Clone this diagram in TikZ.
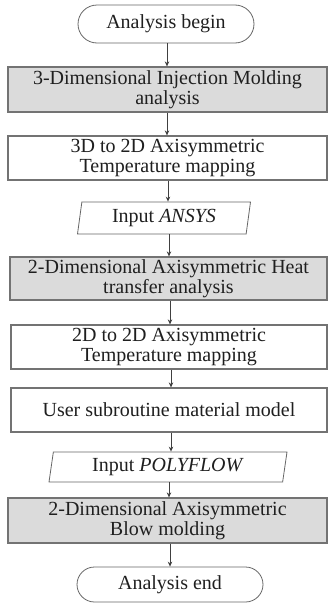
\documentclass[tikz,border=0pt]{standalone}
\usepackage{fontspec}
\setmainfont{Liberation Serif}
\usetikzlibrary{shapes.geometric,shapes.misc,arrows.meta}
\begin{document}
\begin{tikzpicture}[x=1pt,y=-1pt,
  every node/.style={font=\fontsize{20}{20}\selectfont, text=black!88, inner sep=0pt},
  term/.style={rounded rectangle, draw=black!60, line width=0.8pt, minimum height=38pt},
  procg/.style={rectangle, draw=black!55, fill=black!14, line width=1.2pt, minimum width=319pt, align=center},
  procw/.style={rectangle, draw=black!55, fill=white, line width=1.2pt, minimum width=319pt, align=center},
  io/.style={trapezium, trapezium left angle=76, trapezium right angle=104, trapezium stretches body, draw=black!60, line width=0.8pt},
  arr/.style={draw=black!75, line width=0.8pt, -{Stealth[length=5pt,width=4.5pt]}}
]
\useasboundingbox (0,0) rectangle (328,608);
\node[term, minimum width=176pt] (begin) at (166,24) {Analysis begin};
\node[procg, minimum height=45pt] (b1) at (167.5,89.5) {3-Dimensional Injection Molding\\analysis};
\node[procw, minimum height=44pt] (b2) at (167.5,158) {3D to 2D Axisymmetric\\Temperature mapping};
\node[io, minimum width=173pt, minimum height=32pt] (p1) at (164,218) {Input \textit{ANSYS}};
\node[procg, minimum height=43pt, minimum width=317pt] (b3) at (168.5,278.5) {2-Dimensional Axisymmetric Heat\\transfer analysis};
\node[procw, minimum height=44pt, minimum width=316pt] (b4) at (169,347) {2D to 2D Axisymmetric\\Temperature mapping};
\node[procw, minimum height=44pt, minimum width=316pt] (b5) at (169,410) {User subroutine material model};
\node[io, minimum width=238pt, minimum height=30pt] (p2) at (168,467) {Input \textit{POLYFLOW}};
\node[procg, minimum height=45pt] (b6) at (167.5,520.5) {2-Dimensional Axisymmetric\\Blow molding};
\node[term, minimum width=186pt, minimum height=35pt] (end) at (170,584.5) {Analysis end};
\draw[arr] (begin.south -| 167,0) -- (b1.north -| 167,0);
\draw[arr] (b1.south -| 167,0) -- (b2.north -| 167,0);
\draw[arr] (b2.south -| 168,0) -- (p1.north -| 168,0);
\draw[arr] (p1.south -| 169,0) -- (b3.north -| 169,0);
\draw[arr] (b3.south -| 170,0) -- (b4.north -| 170,0);
\draw[arr] (b4.south -| 171,0) -- (b5.north -| 171,0);
\draw[arr] (b5.south -| 171,0) -- (p2.north -| 171,0);
\draw[arr] (p2.south -| 169,0) -- (b6.north -| 169,0);
\draw[arr] (b6.south -| 170,0) -- (end.north -| 170,0);
\end{tikzpicture}
\end{document}
